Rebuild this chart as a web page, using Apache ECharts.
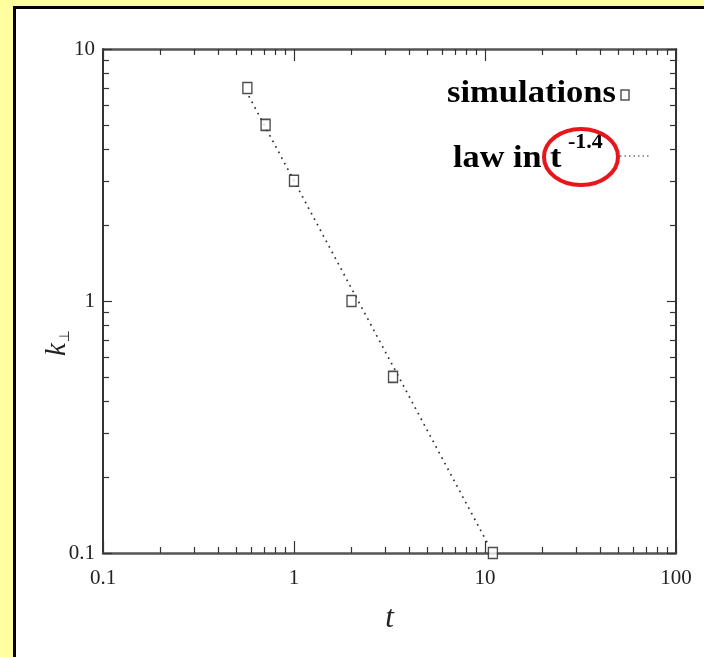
<!DOCTYPE html>
<html>
<head>
<meta charset="utf-8">
<script src="https://cdn.jsdelivr.net/npm/echarts@6/dist/echarts.min.js"></script>
<style>
  html, body { margin: 0; padding: 0; width: 704px; height: 657px; overflow: hidden; background: #ffffa0; }
  #panel { position: absolute; left: 13px; top: 6px; width: 720px; height: 680px; background: #fff; border: 3px solid #000; }
  #chart { position: absolute; left: 0; top: 0; width: 704px; height: 657px; }
</style>
</head>
<body>
<div id="panel"></div>
<div id="chart"></div>
<script>
// Simulated k_perp decay versus time
const simT = [0.57, 0.71, 1.0, 2.0, 3.3, 11.0];
const simK = [7.0, 5.0, 3.0, 1.0, 0.5, 0.1];

// Power-law fit, k ~ t^-1.4 (end points of the dotted guide)
const lawT = [0.58, 10.4];
const lawK = [6.5, 0.108];

// Tick positions on the log axes
const xMajor = [0.1, 1, 10, 100];
const xMinor = [0.2, 0.3, 0.4, 0.5, 0.6, 0.7, 0.8, 0.9, 2, 3, 4, 5, 6, 7, 8, 9, 20, 30, 40, 50, 60, 70, 80, 90];
const yMajor = [0.1, 1, 10];
const yMinor = [0.2, 0.3, 0.4, 0.5, 0.6, 0.7, 0.8, 0.9, 2, 3, 4, 5, 6, 7, 8, 9];

const SERIF = '"Liberation Serif", "Times New Roman", serif';
const gridBox = { left: 103, right: 28, top: 49, bottom: 104 };
const fmt = v => String(+Number(v).toPrecision(3));

function logAxis(opts) {
  const base = {
    type: 'log', logBase: 10, silent: true,
    splitLine: { show: false },
    axisLine: { show: false },
    axisLabel: { show: false },
    axisTick: { show: true, inside: true, length: 6, lineStyle: { color: '#333', width: 1.2 } }
  };
  return Object.assign(base, opts);
}

const chart = echarts.init(document.getElementById('chart'), null, { renderer: 'canvas' });

chart.setOption({
  animation: false,
  backgroundColor: 'transparent',
  grid: [
    Object.assign({}, gridBox),
    Object.assign({}, gridBox),
    Object.assign({}, gridBox),
    Object.assign({}, gridBox)
  ],
  xAxis: [
    logAxis({
      gridIndex: 0, position: 'bottom', min: 0.1, max: 100,
      axisLine: { show: true, lineStyle: { color: '#555', width: 2.5 } },
      axisTick: { show: true, inside: true, length: 12, customValues: xMajor, lineStyle: { color: '#333', width: 1.2 } },
      axisLabel: { show: true, customValues: xMajor, formatter: fmt, margin: 15, fontFamily: SERIF, fontSize: 21, color: '#222' },
      name: 't', nameLocation: 'middle', nameGap: 50,
      nameTextStyle: { fontFamily: SERIF, fontStyle: 'italic', fontSize: 31, color: '#222' }
    }),
    logAxis({ gridIndex: 1, position: 'bottom', min: 0.1, max: 100, axisTick: { show: true, inside: true, length: 6, customValues: xMinor, lineStyle: { color: '#333', width: 1.2 } } }),
    logAxis({
      gridIndex: 2, position: 'top', min: 0.1, max: 100,
      axisLine: { show: true, lineStyle: { color: '#555', width: 2.5 } },
      axisTick: { show: true, inside: true, length: 12, customValues: xMajor, lineStyle: { color: '#333', width: 1.2 } }
    }),
    logAxis({ gridIndex: 3, position: 'top', min: 0.1, max: 100, axisTick: { show: true, inside: true, length: 6, customValues: xMinor, lineStyle: { color: '#333', width: 1.2 } } })
  ],
  yAxis: [
    logAxis({
      gridIndex: 0, position: 'left', min: 0.1, max: 10,
      axisLine: { show: true, lineStyle: { color: '#333', width: 2 } },
      axisTick: { show: true, inside: true, length: 9, customValues: yMajor, lineStyle: { color: '#333', width: 1.2 } },
      axisLabel: { show: true, customValues: yMajor, formatter: fmt, margin: 8, fontFamily: SERIF, fontSize: 21, color: '#222' },
      name: '{k|k}{s|⊥}', nameLocation: 'middle', nameRotate: 90, nameGap: 31, nameMoveOverlap: false,
      nameTextStyle: {
        color: '#222',
        padding: [0, 84, 0, 0],
        rich: {
          k: { fontFamily: SERIF, fontStyle: 'italic', fontSize: 29, color: '#222' },
          s: { fontFamily: 'DejaVu Sans', fontSize: 14, color: '#222', verticalAlign: 'bottom', padding: [0, 0, 0, 1] }
        }
      }
    }),
    logAxis({ gridIndex: 1, position: 'left', min: 0.1, max: 10, axisTick: { show: true, inside: true, length: 6, customValues: yMinor, lineStyle: { color: '#333', width: 1.2 } } }),
    logAxis({
      gridIndex: 2, position: 'right', min: 0.1, max: 10,
      axisLine: { show: true, lineStyle: { color: '#333', width: 2 } },
      axisTick: { show: true, inside: true, length: 9, customValues: yMajor, lineStyle: { color: '#333', width: 1.2 } }
    }),
    logAxis({ gridIndex: 3, position: 'right', min: 0.1, max: 10, axisTick: { show: true, inside: true, length: 6, customValues: yMinor, lineStyle: { color: '#333', width: 1.2 } } })
  ],
  series: [
    {
      name: 'law in t^-1.4', type: 'line', xAxisIndex: 0, yAxisIndex: 0,
      data: lawT.map((t, i) => [t, lawK[i]]),
      showSymbol: false, symbol: 'none', z: 2,
      lineStyle: { color: '#333', width: 1.7, type: [1.7, 4.6], cap: 'butt' }
    },
    {
      name: 'simulations', type: 'scatter', xAxisIndex: 0, yAxisIndex: 0,
      data: simT.map((t, i) => [t, simK[i]]),
      symbol: 'rect', symbolSize: [9, 11], z: 3,
      itemStyle: { color: '#fff', borderColor: '#222', borderWidth: 1.5 }
    }
  ],
  graphic: [
    // legend entry: simulations
    { type: 'text', left: 447, top: 78, z: 10, scaleX: 1.08,
      style: { text: 'simulations', font: 'bold 32px "Liberation Serif"', fill: '#000' } },
    { type: 'rect', z: 10, shape: { x: 621, y: 90, width: 8, height: 10 },
      style: { fill: '#fff', stroke: '#555', lineWidth: 1.5 } },
    // legend entry: power law
    { type: 'text', left: 453, top: 143, z: 10, scaleX: 1.07,
      style: { text: 'law in t', font: 'bold 32px "Liberation Serif"', fill: '#000' } },
    { type: 'text', left: 568, top: 131, z: 10,
      style: { text: '-1.4', font: 'bold 22px "Liberation Serif"', fill: '#000' } },
    { type: 'line', z: 10, shape: { x1: 620, y1: 156, x2: 649, y2: 156 },
      style: { stroke: '#777', lineWidth: 1.5, lineDash: [1.5, 3] } },
    // highlight around the exponent
    { type: 'ellipse', z: 11, shape: { cx: 581, cy: 157, rx: 37, ry: 28 },
      style: { fill: 'none', stroke: '#e8161b', lineWidth: 4 } }
  ]
});
</script>
</body>
</html>
